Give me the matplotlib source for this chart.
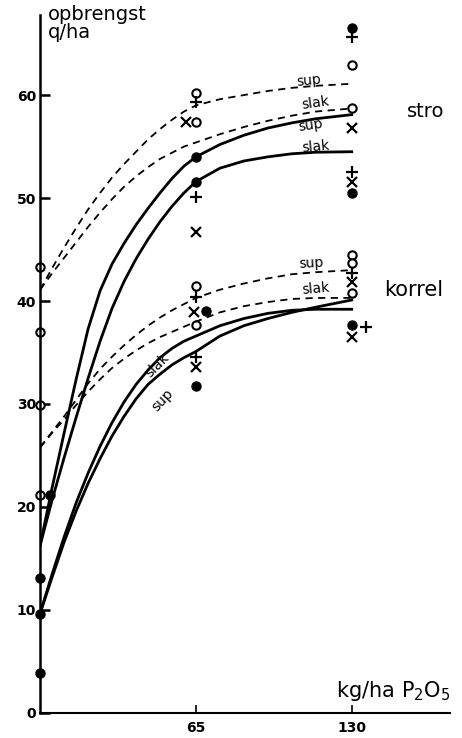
import numpy as np
import matplotlib.pyplot as plt

# opbrengst (q/ha) tegen bemesting (kg/ha P2O5)
curve_x = [0, 5, 10, 15, 20, 25, 30, 35, 40, 45, 50, 55, 60, 65,
           75, 85, 95, 105, 115, 130]

# stro
stro_sup_dash = [41.1, 43.2, 45.2, 47.1, 48.9, 50.5, 52.0, 53.3, 54.5, 55.7,
                 56.7, 57.6, 58.4, 59.0, 59.6, 60.0, 60.4, 60.7, 60.9, 61.1]
stro_slak_dash = [41.1, 42.7, 44.2, 45.7, 47.2, 48.6, 49.9, 51.1, 52.1, 53.0,
                  53.8, 54.4, 55.0, 55.4, 56.2, 56.9, 57.5, 58.0, 58.4, 58.7]
stro_sup = [16.3, 21.9, 27.2, 32.4, 37.3, 41.0, 43.6, 45.6, 47.4, 49.0,
            50.5, 51.9, 53.1, 54.0, 55.2, 56.1, 56.8, 57.3, 57.7, 58.1]
stro_slak = [16.3, 20.7, 24.8, 28.7, 32.5, 36.1, 39.3, 41.9, 44.1, 46.0,
             47.7, 49.2, 50.5, 51.6, 52.9, 53.6, 54.0, 54.3, 54.45, 54.5]

# korrel
korrel_sup_dash = [25.8, 27.3, 28.8, 30.4, 32.0, 33.4, 34.6, 35.7, 36.7, 37.6,
                   38.4, 39.1, 39.7, 40.3, 41.1, 41.7, 42.2, 42.6, 42.8, 43.0]
korrel_slak_dash = [25.8, 27.2, 28.5, 29.9, 31.2, 32.4, 33.5, 34.4, 35.2, 35.9,
                    36.5, 37.0, 37.5, 38.0, 38.9, 39.5, 39.9, 40.2, 40.3, 40.3]
korrel_slak = [9.7, 13.5, 17.1, 20.4, 23.3, 25.9, 28.2, 30.2, 31.9, 33.3,
               34.5, 35.4, 36.1, 36.6, 37.6, 38.3, 38.8, 39.1, 39.2, 39.2]
korrel_sup = [9.7, 13.2, 16.6, 19.6, 22.3, 24.7, 26.9, 28.8, 30.5, 31.9,
              32.9, 33.8, 34.5, 35.1, 36.6, 37.6, 38.3, 38.9, 39.4, 40.1]

# losse waarnemingen
open_x = [0, 0, 0, 0, 65, 65, 65, 65, 130, 130, 130, 130, 130]
open_y = [43.3, 37.0, 29.9, 21.2, 60.2, 57.4, 41.5, 37.7, 62.9, 58.7, 44.5, 43.7, 40.8]
filled_x = [4, 0, 0, 0, 65, 65, 69, 65, 130, 130, 130]
filled_y = [21.2, 13.1, 9.6, 3.9, 54.0, 51.6, 39.0, 31.7, 66.5, 50.5, 37.7]
plus_x = [65, 65, 65, 65, 130, 130, 130, 136]
plus_y = [59.3, 50.1, 40.4, 34.6, 65.6, 52.5, 42.7, 37.5]
cross_x = [61, 65, 64, 65, 130, 130, 130, 130]
cross_y = [57.4, 46.7, 38.9, 33.6, 56.8, 51.6, 41.8, 36.5]

yticks = [0, 10, 20, 30, 40, 50, 60]
xticks = [65, 130]

fig = plt.figure(figsize=(4.62, 7.38), dpi=100)
ax = fig.add_axes([0.087, 0.034, 0.887, 0.946])

dash = dict(color="black", lw=1.3, ls=(0, (4, 3)))
solid = dict(color="black", lw=2.0)

ax.plot(curve_x, stro_sup_dash, **dash)
ax.plot(curve_x, stro_slak_dash, **dash)
ax.plot(curve_x, stro_sup, **solid)
ax.plot(curve_x, stro_slak, **solid)
ax.plot(curve_x, korrel_sup_dash, **dash)
ax.plot(curve_x, korrel_slak_dash, **dash)
ax.plot(curve_x, korrel_slak, **solid)
ax.plot(curve_x, korrel_sup, **solid)

ax.plot(open_x, open_y, "o", ms=6, mfc="white", mec="black", mew=1.5, clip_on=False)
ax.plot(filled_x, filled_y, "o", ms=6.5, color="black", clip_on=False)
ax.plot(plus_x, plus_y, "+", ms=8, mew=1.6, color="black", clip_on=False)
ax.plot(cross_x, cross_y, "x", ms=6.5, mew=1.6, color="black", clip_on=False)

ax.set_xlim(0, 171)
ax.set_ylim(0, 67.8)
for s in ["top", "right"]:
    ax.spines[s].set_visible(False)
ax.spines["left"].set_linewidth(1.8)
ax.spines["bottom"].set_linewidth(1.5)
ax.set_yticks(yticks)
ax.set_xticks(xticks)
ax.tick_params(axis="y", direction="in", length=7, width=1.8, labelsize=10, pad=3)
ax.tick_params(axis="x", direction="in", length=6, width=1.2, labelsize=10, pad=6)
for lab in ax.get_xticklabels() + ax.get_yticklabels():
    lab.set_fontweight("bold")

ax.text(3, 68.7, "opbrengst\nq/ha", fontsize=14, va="top", ha="left",
        linespacing=0.9, clip_on=False)
ax.text(171, 1.0, "kg/ha P$_2$O$_5$", fontsize=15, ha="right", va="bottom")
ax.text(161, 58.4, "stro", fontsize=14, ha="center", va="center")
ax.text(156, 41.1, "korrel", fontsize=15, ha="center", va="center")

lbl = dict(fontsize=10, ha="center", va="bottom")
ax.text(112, 60.6, "sup", rotation=6, **lbl)
ax.text(115, 58.4, "slak", rotation=8, **lbl)
ax.text(113, 56.2, "sup", rotation=8, **lbl)
ax.text(115, 54.2, "slak", rotation=5, **lbl)
ax.text(113, 42.9, "sup", rotation=3, **lbl)
ax.text(115, 40.4, "slak", rotation=5, **lbl)
ax.text(49, 33.8, "slak", fontsize=10, rotation=45, ha="center", va="center")
ax.text(51, 30.4, "sup", fontsize=10, rotation=47, ha="center", va="center")

plt.savefig("out.png", dpi=100)
